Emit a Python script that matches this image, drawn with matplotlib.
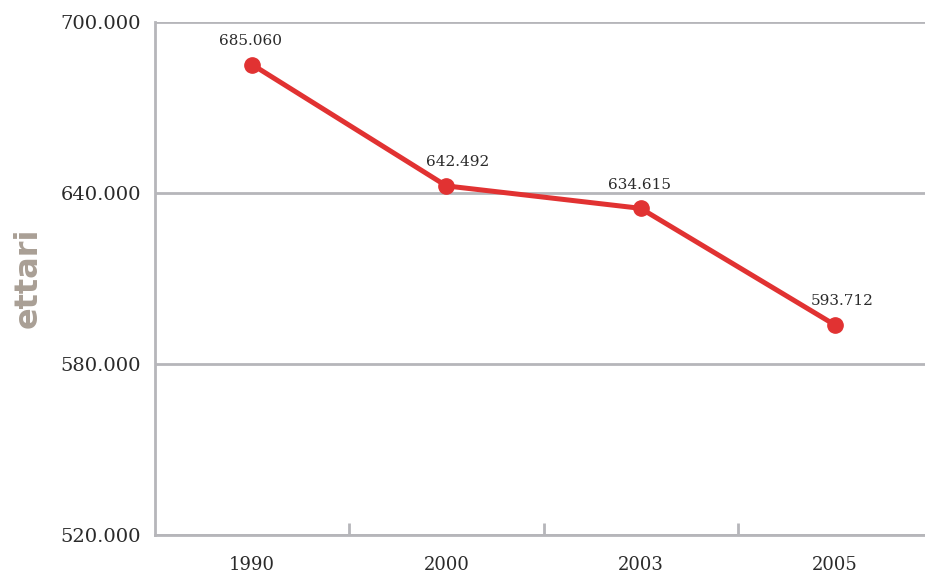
import matplotlib.pyplot as plt

# Surface (hectares) by year
years = ['1990', '2000', '2003', '2005']
ettari = [685060, 642492, 634615, 593712]
value_labels = ['685.060', '642.492', '634.615', '593.712']

y_ticks = [520000, 580000, 640000, 700000]
y_tick_labels = ['520.000', '580.000', '640.000', '700.000']

grid_grey = '#b6b6ba'
line_red = '#e13232'
text_dark = '#2a2a2a'
serif = 'DejaVu Serif'

fig = plt.figure(figsize=(9.25, 5.75), dpi=100)
ax = fig.add_axes([155 / 925, 40 / 575, 777 / 925, 513 / 575])

x = list(range(len(years)))
ax.plot(x, ettari, color=line_red, linewidth=3.6, marker='o',
        markersize=11, zorder=3, clip_on=False)

# value labels above each point (nudged sideways to stay off the line)
label_dx = [-1, 8, -1, 5]
for xi, val, lab, dx in zip(x, ettari, value_labels, label_dx):
    ax.annotate(lab, (xi, val), xytext=(dx, 17), textcoords='offset points',
                ha='center', va='center', fontsize=11,
                family=serif, color=text_dark)

ax.set_xlim(-0.5, 3.5)
ax.set_ylim(520000, 700000)

ax.set_yticks(y_ticks)
ax.set_yticklabels(y_tick_labels, family=serif, fontsize=14,
                   color=text_dark)
ax.set_xticks(x)
ax.set_xticklabels(years, family=serif, fontsize=13,
                   color=text_dark)

# separators between the year bands
ax.set_xticks([0.5, 1.5, 2.5], minor=True)
ax.tick_params(axis='x', which='minor', direction='in', length=9,
               width=2, color=grid_grey)
ax.tick_params(axis='x', which='major', length=0, pad=15)
ax.tick_params(axis='y', length=0, pad=10)

ax.grid(axis='y', color=grid_grey, linewidth=2, zorder=1)
ax.set_axisbelow(True)

for side in ['top', 'right']:
    ax.spines[side].set_visible(False)
for side in ['left', 'bottom']:
    ax.spines[side].set_color(grid_grey)
    ax.spines[side].set_linewidth(2)

fig.text(28 / 925, 1 - 278 / 575, 'ettari', rotation=90, ha='center',
         va='center', fontsize=23, fontweight='bold', color='#a99f95',
         family='DejaVu Sans')

fig.savefig('out.png', dpi=100)
